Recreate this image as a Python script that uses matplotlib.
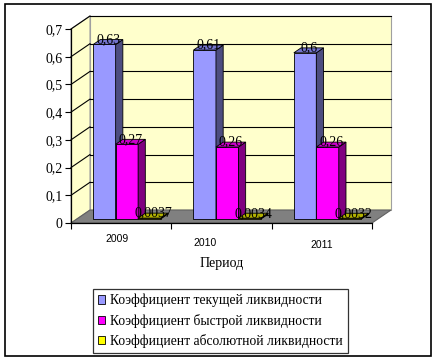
import matplotlib
matplotlib.use("Agg")
import matplotlib.pyplot as plt
from matplotlib.patches import Polygon, Rectangle, Patch
from matplotlib.font_manager import FontProperties

# данные
years = ["2009", "2010", "2011"]
series = ["Коэффициент текущей ликвидности",
          "Коэффициент быстрой ликвидности",
          "Коэффициент абсолютной ликвидности"]
k_tek = [0.63, 0.61, 0.6]
k_bys = [0.27, 0.26, 0.26]
k_abs = [0.0037, 0.0034, 0.0032]
values = [k_tek, k_bys, k_abs]
yticks = [0, 0.1, 0.2, 0.3, 0.4, 0.5, 0.6, 0.7]

front = ["#9999FF", "#FF00FF", "#FFFF00"]
side = ["#4D4D80", "#800080", "#808000"]
top = ["#7373CC", "#CC00CC", "#B3B300"]

plt.rcParams["font.family"] = ["Liberation Serif", "DejaVu Serif"]
serif = FontProperties(family=["Liberation Serif", "DejaVu Serif"], size=10)
serif_leg = FontProperties(family=["Liberation Serif", "DejaVu Serif"], size=9.8)

W, H = 434, 362
fig = plt.figure(figsize=(W / 100, H / 100), dpi=100)
fig.patch.set_facecolor("white")

# оси передней плоскости (в пикселях картинки)
x0, x1, y0, y1 = 71, 372, 223, 29
ax = fig.add_axes([x0 / W, (H - y0) / H, (x1 - x0) / W, (y0 - y1) / H])
ax.set_xlim(-0.5, 2.5)
ax.set_ylim(0, 0.7)
ax.patch.set_visible(False)

# глубина 3d в единицах данных
DX = 19 / ((x1 - x0) / 3)
DY = 13 / ((y0 - y1) / 0.7)
f0, f1 = 0.3, 0.68
ddx, ddy = (f1 - f0) * DX, (f1 - f0) * DY
bw = 0.224

# стенки
ax.add_patch(Polygon([(-0.5, 0), (-0.5, 0.7), (-0.5 + DX, 0.7 + DY), (-0.5 + DX, DY)],
                     closed=True, fc="#FFFFCC", ec="#A0A0A0", lw=0.8, clip_on=False, zorder=0))
ax.add_patch(Rectangle((-0.5 + DX, DY), 3, 0.7, fc="#FFFFCC", ec="#A0A0A0", lw=0.8,
                       clip_on=False, zorder=0))
for v in yticks[1:]:
    ax.plot([-0.5 + DX, 2.5 + DX], [v + DY, v + DY], color="black", lw=0.8, clip_on=False, zorder=1)
    ax.plot([-0.5, -0.5 + DX], [v, v + DY], color="black", lw=0.8, clip_on=False, zorder=1)
# пол
ax.add_patch(Polygon([(-0.5, 0), (2.5, 0), (2.5 + DX, DY), (-0.5 + DX, DY)],
                     closed=True, fc="#808080", ec="#606060", lw=0.8, clip_on=False, zorder=2))

# столбики
b = f0 * DY
z = 3
for c in range(len(years)):
    for i in range(3):
        h = values[i][c]
        xl = c - 1.5 * bw + i * bw + f0 * DX
        xr = xl + bw
        ax.bar(xl, h, bw, bottom=b, align="edge", color=front[i], ec="black", lw=0.6,
               clip_on=False, zorder=z)
        ax.add_patch(Polygon([(xr, b), (xr + ddx, b + ddy), (xr + ddx, b + h + ddy), (xr, b + h)],
                             closed=True, fc=side[i], ec="black", lw=0.6, clip_on=False, zorder=z))
        ax.add_patch(Polygon([(xl, b + h), (xl + ddx, b + h + ddy), (xr + ddx, b + h + ddy), (xr, b + h)],
                             closed=True, fc=top[i], ec="black", lw=0.6, clip_on=False, zorder=z))
        lab = ("%g" % h).replace(".", ",")
        ax.text(xl + bw / 2 + ddx / 2, b + h + ddy, lab, ha="center", va="center",
                fontproperties=serif, zorder=z + 1)
        z += 2

# оси
for s in ["top", "right"]:
    ax.spines[s].set_visible(False)
ax.spines["left"].set_linewidth(0.9)
ax.spines["bottom"].set_linewidth(0.9)
ax.spines["left"].set_zorder(10)
ax.spines["bottom"].set_zorder(10)
ax.set_yticks(yticks)
ax.set_yticklabels([("%g" % v).replace(".", ",") for v in yticks], fontproperties=serif)
ax.set_xticks([-0.5, 0.5, 1.5, 2.5])
ax.set_xticklabels([])
ax.tick_params(direction="out", length=4, width=0.8, pad=2)

# подписи лет (смещены как на картинке)
ylab_x = [-0.04, 0.84, 2.0]
ylab_y = [-0.058, -0.073, -0.08]
for c, yr in enumerate(years):
    ax.text(ylab_x[c], ylab_y[c], yr, ha="center", va="center", fontsize=7.5,
            family="Liberation Sans")
ax.text(1.0, -0.145, "Период", ha="center", va="center", fontproperties=serif)

# легенда
handles = [Patch(fc=front[i], ec="black", lw=0.6) for i in range(3)]
leg = fig.legend(handles, series, loc="upper left", bbox_to_anchor=(93 / W, 1 - 289 / H),
                 prop=serif_leg, frameon=True, fancybox=False,
                 handlelength=0.55, handleheight=0.55, handletextpad=0.35, labelspacing=0.46,
                 borderpad=0.35, borderaxespad=0)
leg.get_frame().set_edgecolor("black")
leg.get_frame().set_linewidth(0.9)

# рамка
fig.add_artist(Rectangle((5 / W, 1 - 356 / H), 426 / W, 352 / H, transform=fig.transFigure,
                         fill=False, ec="black", lw=1.2))

fig.savefig("out.png", dpi=100)
